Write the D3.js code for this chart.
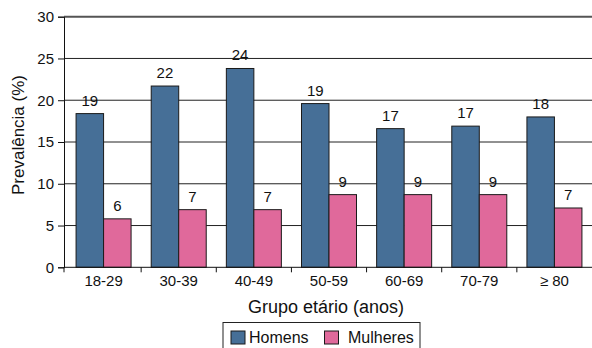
<!DOCTYPE html>
<html><head><meta charset="utf-8">
<script src="https://cdn.jsdelivr.net/npm/d3@7"></script>
<style>body{margin:0;background:#fff}svg{display:block}text{font-family:"Liberation Sans",Arial,sans-serif;fill:#111}</style>
</head><body>
<svg id="c" width="592" height="348"></svg>
<script>
const categories = ["18-29","30-39","40-49","50-59","60-69","70-79","\u2265 80"];
const series = ["Homens","Mulheres"];
const homens = [18.4,21.7,23.8,19.6,16.6,16.9,18.0];
const mulheres = [5.8,6.9,6.9,8.7,8.7,8.7,7.1];
const homensLabels = [19,22,24,19,17,17,18];
const mulheresLabels = [6,7,7,9,9,9,7];
const yTicks = [0,5,10,15,20,25,30];
const colors = {Homens:"#466f97", Mulheres:"#e0699b"};

const svg = d3.select("#c");
const x0 = d3.scaleBand().domain(categories).range([66,592]).paddingInner(0.268).paddingOuter(0.134);
const x1 = d3.scaleBand().domain(series).range([0,x0.bandwidth()]);
const y = d3.scaleLinear().domain([0,30]).range([267.3,16.7]);
const axisX = 64, rightX = 592;

// gridlines
svg.append("g").selectAll("line").data(yTicks.filter(d=>d>0)).join("line")
  .attr("x1",axisX).attr("x2",rightX).attr("y1",d=>y(d)).attr("y2",d=>y(d))
  .attr("stroke",d=>d===30?"#555":"#222").attr("stroke-width",d=>d===30?2:1);

// y axis
const yAxis = d3.axisLeft(y).tickValues(yTicks).tickSize(6).tickPadding(4);
const gy = svg.append("g").attr("transform",`translate(${axisX},0)`).call(yAxis);
gy.select(".domain").attr("stroke","#111");
gy.selectAll(".tick line").attr("stroke","#111");
gy.selectAll("text").style("font-size","15px").attr("fill","#111");

// bars
const data = categories.map((c,i)=>({c, vals:[
  {s:"Homens", v:homens[i], l:homensLabels[i]},
  {s:"Mulheres", v:mulheres[i], l:mulheresLabels[i]}]}));
const g = svg.append("g").selectAll("g").data(data).join("g")
  .attr("transform",d=>`translate(${x0(d.c)},0)`);
g.selectAll("rect").data(d=>d.vals).join("rect")
  .attr("x",d=>x1(d.s)).attr("width",x1.bandwidth())
  .attr("y",d=>y(d.v)).attr("height",d=>y(0)-y(d.v))
  .attr("fill",d=>colors[d.s]).attr("stroke","#1a1a1a").attr("stroke-width",1);
g.selectAll("text").data(d=>d.vals).join("text")
  .attr("x",d=>x1(d.s)+x1.bandwidth()/2).attr("y",d=>y(d.v)-8)
  .attr("text-anchor","middle").style("font-size","15px").text(d=>d.l);

// x axis
const step = x0.step(), gap = step - x0.bandwidth();
svg.append("line").attr("x1",axisX).attr("x2",rightX).attr("y1",y(0)).attr("y2",y(0)).attr("stroke","#111");
const bounds = [axisX].concat(categories.slice(1).map(c=>x0(c)-gap/2));
svg.append("g").selectAll("line").data(bounds).join("line")
  .attr("x1",d=>d).attr("x2",d=>d).attr("y1",y(0)).attr("y2",y(0)+5).attr("stroke","#111");
svg.append("g").selectAll("text").data(categories).join("text")
  .attr("x",d=>x0(d)+x0.bandwidth()/2).attr("y",286)
  .attr("text-anchor","middle").style("font-size","15px").text(d=>d);

// titles
svg.append("text").attr("x",326).attr("y",313).attr("text-anchor","middle")
  .style("font-size","18px").text("Grupo etário (anos)");
svg.append("text").attr("transform","translate(24,135) rotate(-90)").attr("text-anchor","middle")
  .style("font-size","17px").text("Prevalência (%)");

// legend
const lg = svg.append("g");
lg.append("rect").attr("x",223).attr("y",322.5).attr("width",197).attr("height",40)
  .attr("fill","#fff").attr("stroke","#222").attr("stroke-width",1);
const items = [{s:"Homens", bx:231, tx:249},{s:"Mulheres", bx:324.5, tx:348}];
lg.selectAll("rect.sw").data(items).join("rect").attr("class","sw")
  .attr("x",d=>d.bx).attr("y",331).attr("width",14).attr("height",13)
  .attr("fill",d=>colors[d.s]).attr("stroke","#1a1a1a");
lg.selectAll("text").data(items).join("text")
  .attr("x",d=>d.tx).attr("y",343).style("font-size","16px").text(d=>d.s);
</script>
</body></html>
